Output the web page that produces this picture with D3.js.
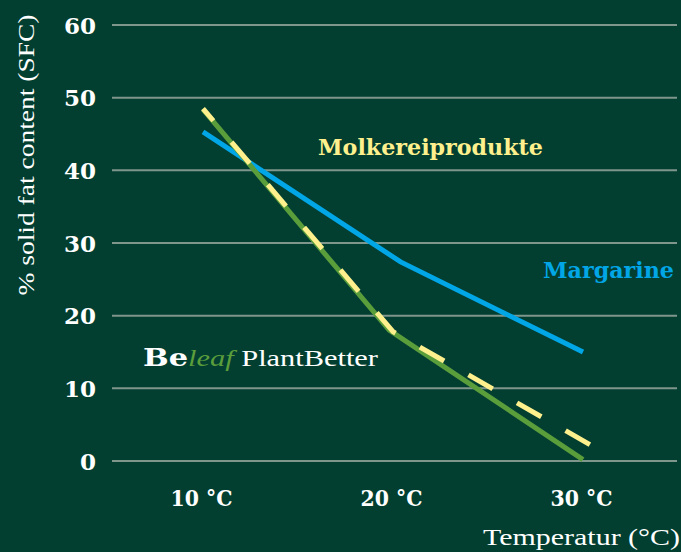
<!DOCTYPE html>
<html>
<head>
<meta charset="utf-8">
<script src="https://cdn.jsdelivr.net/npm/d3@7"></script>
<style>
  html, body { margin: 0; padding: 0; background: #023f31; }
  svg { display: block; }
</style>
</head>
<body>
<div id="chart"></div>
<script>
// Chart data (temperature in °C, solid fat content in %)
var margarine = [[10, 45.3], [20.4, 27.4], [30, 15.0]];
var beleaf = [[10, 48.4], [19.8, 18.0], [30, 0.2]];
var molkerei = [[10, 48.5], [20, 17.8], [30.6, 1.9]];
var yTicks = [0, 10, 20, 30, 40, 50, 60];
var xTicks = [10, 20, 30];
var xTickLabels = ["10 °C", "20 °C", "30 °C"];

var svgWidth = 681;
var svgHeight = 552;

var svg = d3.select("#chart")
    .append("svg")
    .attr("width", svgWidth)
    .attr("height", svgHeight);

svg.append("rect")
    .attr("width", svgWidth)
    .attr("height", svgHeight)
    .attr("fill", "#023f31");

var xScale = d3.scaleLinear().domain([10, 30]).range([203, 583]);
var yScale = d3.scaleLinear().domain([0, 60]).range([461, 25]);

var serif = "'DejaVu Serif', 'Liberation Serif', serif";
var lightSerif = "'Liberation Serif', serif";

// gridlines
svg.append("g")
    .selectAll("line")
    .data(yTicks)
    .enter().append("line")
    .attr("x1", 112)
    .attr("x2", 677)
    .attr("y1", d => yScale(d))
    .attr("y2", d => yScale(d))
    .attr("stroke", "#7f968d")
    .attr("stroke-width", 2);

// y axis labels
var leftAxis = d3.axisLeft(yScale).tickValues(yTicks).tickSize(0).tickPadding(0);
var yAxisG = svg.append("g")
    .attr("transform", "translate(96,0)")
    .call(leftAxis);
yAxisG.select(".domain").remove();
yAxisG.selectAll("text")
    .attr("fill", "#ffffff")
    .attr("dy", "0.36em")
    .style("font-family", serif)
    .style("font-weight", "bold")
    .style("font-size", "23px");

// x axis labels
var bottomAxis = d3.axisBottom(xScale).tickValues(xTicks)
    .tickFormat((d, i) => xTickLabels[i]).tickSize(0).tickPadding(0);
var xAxisG = svg.append("g")
    .attr("transform", "translate(-2,501)")
    .call(bottomAxis);
xAxisG.select(".domain").remove();
xAxisG.selectAll("text")
    .attr("fill", "#ffffff")
    .attr("dy", "0.2em")
    .attr("textLength", 62)
    .attr("lengthAdjust", "spacingAndGlyphs")
    .style("font-family", serif)
    .style("font-weight", "bold")
    .style("font-size", "23px");

// axis titles
svg.append("text")
    .attr("transform", "translate(34,155) rotate(-90)")
    .attr("text-anchor", "middle")
    .attr("fill", "#ffffff")
    .attr("textLength", 281)
    .attr("lengthAdjust", "spacingAndGlyphs")
    .style("font-family", lightSerif)
    .style("font-size", "24px")
    .text("% solid fat content (SFC)");

svg.append("text")
    .attr("x", 680)
    .attr("y", 545)
    .attr("text-anchor", "end")
    .attr("fill", "#ffffff")
    .attr("textLength", 197)
    .attr("lengthAdjust", "spacingAndGlyphs")
    .style("font-family", lightSerif)
    .style("font-size", "24px")
    .text("Temperatur (°C)");

// lines
var line = d3.line()
    .x(d => xScale(d[0]))
    .y(d => yScale(d[1]));

svg.append("path")
    .datum(margarine)
    .attr("d", line)
    .attr("fill", "none")
    .attr("stroke", "#00a6e6")
    .attr("stroke-width", 5);

svg.append("path")
    .datum(beleaf)
    .attr("d", line)
    .attr("fill", "none")
    .attr("stroke", "#5a9d3b")
    .attr("stroke-width", 5);

svg.append("path")
    .datum(molkerei)
    .attr("d", line)
    .attr("fill", "none")
    .attr("stroke", "#fdf08d")
    .attr("stroke-width", 5)
    .attr("stroke-dasharray", "28,28")
    .attr("stroke-dashoffset", 12);

// series labels
svg.append("text")
    .attr("x", 318)
    .attr("y", 155)
    .attr("fill", "#fdf08d")
    .attr("textLength", 225)
    .attr("lengthAdjust", "spacingAndGlyphs")
    .style("font-family", serif)
    .style("font-weight", "bold")
    .style("font-size", "23px")
    .text("Molkereiprodukte");

svg.append("text")
    .attr("x", 543)
    .attr("y", 278)
    .attr("fill", "#00a6e6")
    .attr("textLength", 131)
    .attr("lengthAdjust", "spacingAndGlyphs")
    .style("font-family", serif)
    .style("font-weight", "bold")
    .style("font-size", "23px")
    .text("Margarine");

var brand = svg.append("text")
    .attr("x", 143)
    .attr("y", 366)
    .attr("fill", "#ffffff")
    .attr("textLength", 235)
    .attr("lengthAdjust", "spacingAndGlyphs")
    .style("font-family", lightSerif)
    .style("font-size", "24px");
brand.append("tspan")
    .style("font-family", serif)
    .style("font-weight", "bold")
    .style("font-size", "24px")
    .text("Be");
brand.append("tspan")
    .attr("fill", "#5a9d3b")
    .style("font-style", "italic")
    .text("leaf");
brand.append("tspan")
    .text(" PlantBetter");
</script>
</body>
</html>
